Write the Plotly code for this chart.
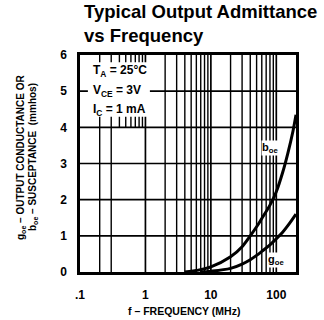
import plotly.graph_objects as go

# Data
b_freq = [4, 6, 10, 20, 30, 40, 50, 60, 80, 100, 125, 150, 180, 200]
b_oe = [0.0, 0.04, 0.14, 0.42, 0.70, 1.0, 1.25, 1.48, 1.85, 2.22, 2.75, 3.28, 3.9, 4.35]
g_freq = [7, 10, 20, 30, 40, 50, 60, 80, 100, 125, 150, 200]
g_oe = [0.0, 0.02, 0.1, 0.22, 0.34, 0.46, 0.57, 0.75, 0.92, 1.1, 1.28, 1.6]

x_tickvals = [0.1, 1, 10, 100]
x_ticktext = [".1", "1", "10", "100"]
y_tickvals = [0, 1, 2, 3, 4, 5, 6]

full_vlines = [0.2, 0.3, 1, 2, 3, 4, 5, 6, 7, 8, 9, 10, 20, 30, 40, 50, 60, 70, 80, 90, 100]
partial_vlines = [0.4, 0.5, 0.6, 0.7, 0.8, 0.9]
hlines = [1, 2, 3, 4, 5]

FONT = "Liberation Sans, Arial, sans-serif"

fig = go.Figure()
fig.add_trace(go.Scatter(x=b_freq, y=b_oe, mode="lines",
                         line=dict(color="black", width=3, shape="spline"),
                         hoverinfo="skip", showlegend=False))
fig.add_trace(go.Scatter(x=g_freq, y=g_oe, mode="lines",
                         line=dict(color="black", width=3, shape="spline"),
                         hoverinfo="skip", showlegend=False))

shapes = []
for v in full_vlines:
    w = 1.7 if v in (1, 10, 100) else 1.4
    shapes.append(dict(type="line", xref="x", yref="y", x0=v, x1=v, y0=0, y1=6,
                       line=dict(color="black", width=w), layer="between"))
for v in partial_vlines:
    shapes.append(dict(type="line", xref="x", yref="y", x0=v, x1=v, y0=4, y1=6,
                       line=dict(color="black", width=1.4), layer="between"))
for h in hlines:
    shapes.append(dict(type="line", xref="x", yref="y", x0=0.1, x1=200, y0=h, y1=h,
                       line=dict(color="black", width=1.7), layer="between"))
# white conditions box
shapes.append(dict(type="rect", xref="x", yref="y", x0=0.132, x1=1.17, y0=4.29, y1=5.8,
                   fillcolor="white", line=dict(width=0), layer="between"))

annotations = [
    dict(text="Typical Output Admittance<br>vs Frequency", xref="paper", yref="paper",
         x=0.01, y=1.0, yshift=7, xanchor="left", yanchor="bottom", align="left",
         showarrow=False, font=dict(family=FONT, size=18.5, color="black", weight="bold")),
    dict(text="T<sub>A</sub> = 25°C", xref="paper", yref="paper", x=(91 - 80) / 216,
         y=(272 - 71) / 217, xanchor="left", yanchor="middle", showarrow=False,
         font=dict(family=FONT, size=12, color="black", weight="bold")),
    dict(text="V<sub>CE</sub> = 3V", xref="paper", yref="paper", x=(91 - 80) / 216,
         y=(272 - 91) / 217, xanchor="left", yanchor="middle", showarrow=False,
         font=dict(family=FONT, size=12, color="black", weight="bold")),
    dict(text="I<sub>C</sub> = 1 mA", xref="paper", yref="paper", x=(91 - 80) / 216,
         y=(272 - 110) / 217, xanchor="left", yanchor="middle", showarrow=False,
         font=dict(family=FONT, size=12, color="black", weight="bold")),
    dict(text="b<sub>oe</sub>", xref="x", yref="y", x=1.905, y=3.43, xanchor="center",
         yanchor="middle", showarrow=False, bgcolor="white", borderpad=0,
         font=dict(family=FONT, size=11, color="black", weight="bold")),
    dict(text="g<sub>oe</sub>", xref="x", yref="y", x=2.0, y=0.32, xanchor="center",
         yanchor="middle", showarrow=False, bgcolor="white", borderpad=0,
         font=dict(family=FONT, size=11, color="black", weight="bold")),
    dict(text="g<sub>oe</sub> – OUTPUT CONDUCTANCE OR", xref="paper", yref="paper",
         x=(21 - 80) / 216, y=(272 - 158) / 217, xanchor="center", yanchor="middle",
         textangle=-90, showarrow=False,
         font=dict(family=FONT, size=10, color="black", weight="bold")),
    dict(text="b<sub>oe</sub> – SUSCEPTANCE  (mmhos)", xref="paper", yref="paper",
         x=(33 - 80) / 216, y=(272 - 157) / 217, xanchor="center", yanchor="middle",
         textangle=-90, showarrow=False,
         font=dict(family=FONT, size=10, color="black", weight="bold")),
    dict(text="f – FREQUENCY (MHz)", xref="paper", yref="paper",
         x=(184 - 80) / 216, y=-(311 - 272) / 217, xanchor="center", yanchor="middle",
         showarrow=False, font=dict(family=FONT, size=10.5, color="black", weight="bold")),
]

fig.update_layout(
    width=324, height=320,
    margin=dict(l=80, r=28, t=55, b=48),
    paper_bgcolor="white", plot_bgcolor="white",
    shapes=shapes, annotations=annotations,
    xaxis=dict(type="log", range=[-1, 2.30103], showgrid=False, zeroline=False,
               tickvals=x_tickvals, ticktext=x_ticktext, ticks="", ticklabelstandoff=10,
               showline=True, mirror=True, linecolor="black", linewidth=2.5,
               tickfont=dict(family=FONT, size=12, color="black", weight="bold")),
    yaxis=dict(range=[0, 6], showgrid=False, zeroline=False, tickvals=y_tickvals,
               ticks="", ticklabelstandoff=8,
               showline=True, mirror=True, linecolor="black", linewidth=2.5,
               tickfont=dict(family=FONT, size=12, color="black", weight="bold")),
)

fig.write_html("out.html", config={"displayModeBar": False},
               post_script="document.body.style.margin='0';")
